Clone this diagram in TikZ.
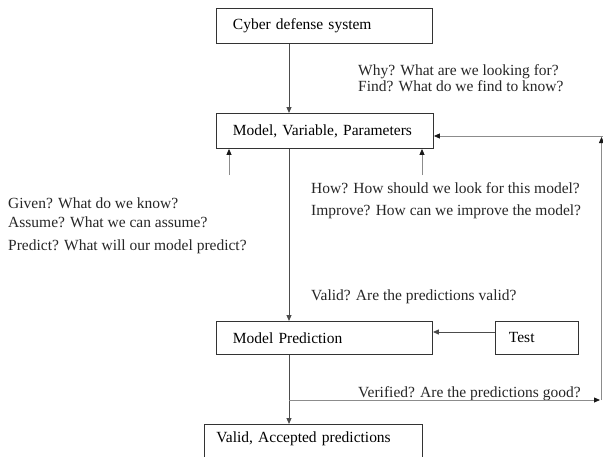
\documentclass[tikz,border=0pt]{standalone}
\usepackage{fontspec}
\setmainfont{Liberation Serif}
\usetikzlibrary{arrows.meta}
\tikzset{
  boxn/.style={draw=black!80, line width=0.9pt, rectangle, anchor=north west, inner xsep=0pt, inner ysep=0pt, font=\fontsize{15.5}{19}\selectfont},
  lbl/.style={anchor=base west, inner sep=0pt, font=\fontsize{15.5}{19}\selectfont, text=black!85},
  arr/.style={draw=black!70, line width=1pt, -{Triangle[length=6pt,width=5pt]}},
  arrl/.style={draw=black!45, line width=0.8pt, -{Triangle[length=6pt,width=5pt,color=black!90]}},
  plainl/.style={draw=black!70, line width=1pt}
}
\begin{document}
\begin{tikzpicture}[x=1pt,y=-1pt]
\useasboundingbox (0,0) rectangle (603,456);
\clip (0,0) rectangle (603,456);
% boxes
\node[boxn, minimum width=216pt, minimum height=35pt, text width=205pt, align=left] (b1) at (216,8) {\hspace*{11pt}Cyber defense system};
\node[boxn, minimum width=217pt, minimum height=35pt, text width=206pt, align=left] (b2) at (216,113) {\hspace*{11pt}Model, Variable, Parameters};
\node[boxn, minimum width=216pt, minimum height=33pt, text width=205pt, align=left] (b3) at (216,321) {\hspace*{11pt}Model Prediction};
\node[boxn, minimum width=83pt, minimum height=33pt, text width=74pt, align=left] (test) at (495,321) {\hspace*{9pt}Test};
\node[boxn, minimum width=218pt, minimum height=38pt, text width=210pt, align=left] (b4) at (204,424) {\hspace*{8pt}Valid, Accepted predictions\\[-6pt]\mbox{}};
% helper coordinates
\coordinate (cx) at (289,0);
\coordinate (la) at (229,175);
\coordinate (ra) at (422,175);
\coordinate (vs) at (289,400);
\coordinate (ve) at (600,400);
\coordinate (rb) at (601.5,400);
\coordinate (rt) at (601.5,137);
\coordinate (rh) at (604,136);
% labels
\node[lbl] (why) at (358,75) {Why? What are we looking for?};
\node[lbl] (find) at (358,91.5) {Find? What do we find to know?};
\node[lbl] (given) at (8,208.5) {Given? What do we know?};
\node[lbl] (assume) at (8,227.5) {Assume? What we can assume?};
\node[lbl] (predict) at (8,250.5) {Predict? What will our model predict?};
\node[lbl] (how) at (311,193) {How? How should we look for this model?};
\node[lbl] (improve) at (311,215) {Improve? How can we improve the model?};
\node[lbl] (valid) at (311,300) {Valid? Are the predictions valid?};
\node[lbl] (verified) at (358,397) {Verified? Are the predictions good?};
% connectors
\draw[arr] (b1.south -| cx) -- (b2.north -| cx);
\draw[arr] (b2.south -| cx) -- (b3.north -| cx);
\draw[arr] (b3.south -| cx) -- (b4.north -| cx);
\draw[arr] (test.west |- 0,332) -- (b3.east |- 0,332);
\draw[arrl] (la) -- (la |- b2.south);
\draw[arrl] (ra) -- (ra |- b2.south);
\draw[arrl] (vs) -- (ve);
\draw[arrl] (rb) -- (rt);
\draw[arrl] (rh) -- (b2.east |- rh);
\end{tikzpicture}
\end{document}
